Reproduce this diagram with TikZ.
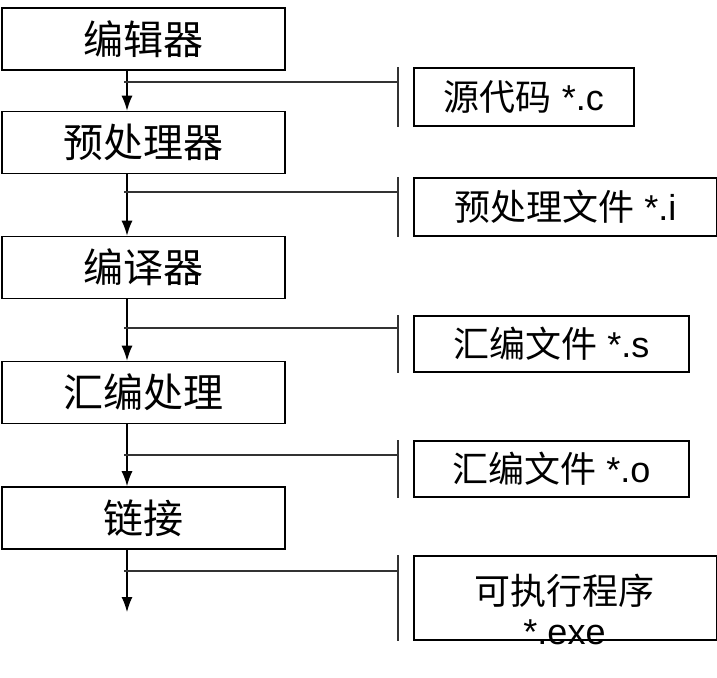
\documentclass[tikz,border=0pt]{standalone}
\usepackage{fontspec}
\setmainfont{Liberation Sans}
\newfontfamily\cjk{Noto Sans CJK SC}
\usetikzlibrary{arrows.meta,calc}

\begin{document}
\begin{tikzpicture}[x=1pt, y=-1pt,
  stage/.style={draw, line width=1.6pt, minimum width=283pt, minimum height=62pt, font=\fontsize{40}{48}\selectfont\cjk},
  file/.style={draw, line width=1.6pt, minimum height=57pt, anchor=west, font=\fontsize{36}{40}\selectfont},
  flow/.style={line width=1.3pt, -{Latex[length=15pt,width=11pt]}},
  feed/.style={line width=1.5pt, draw=black!80}]
  \useasboundingbox (0,0) rectangle (717,677);
  % stages
  \node[stage] (edit) at (143.5,39) {编辑器};
  \node[stage] (prep) at (143.5,142.5) {预处理器};
  \node[stage] (comp) at (143.5,267.5) {编译器};
  \node[stage] (asmb) at (143.5,392.5) {汇编处理};
  \node[stage] (link) at (143.5,518) {链接};
  \coordinate (trunk) at (127,0);
  \coordinate (out) at (127,612);
  \draw[flow] (edit.south -| trunk) -- (prep.north -| trunk);
  \draw[flow] (prep.south -| trunk) -- (comp.north -| trunk);
  \draw[flow] (comp.south -| trunk) -- (asmb.north -| trunk);
  \draw[flow] (asmb.south -| trunk) -- (link.north -| trunk);
  \draw[flow] (link.south -| trunk) -- (out);
  % files
  \node[file, minimum width=220pt, minimum height=58pt] (src) at (413,97) {{\cjk 源代码} *.c};
  \node[file, minimum width=303pt, minimum height=58pt] (ifile) at (413,207) {{\cjk 预处理文件} *.i};
  \node[file, minimum width=275pt, minimum height=56pt] (sfile) at (413,344) {{\cjk 汇编文件} *.s};
  \node[file, minimum width=275pt, minimum height=56pt] (ofile) at (413,469) {{\cjk 汇编文件} *.o};
  \node[file, minimum width=303pt, minimum height=84pt] (exe) at (413,598) {};
  \node[font=\fontsize{36}{40}\selectfont, align=center] (exetext) at (564.5,609) {{\cjk 可执行程序}\\*.exe};
  % feeds
  \draw[feed] ($(src.north west)+(-15,0)$) -- ($(src.south west)+(-15,0)$);
  \draw[feed] ($(src.north west -| trunk)+(-3,15)$) -- ($(src.north west)+(-15,15)$);
  \draw[feed] ($(ifile.north west)+(-15,0)$) -- ($(ifile.south west)+(-15,0)$);
  \draw[feed] ($(ifile.north west -| trunk)+(-3,15)$) -- ($(ifile.north west)+(-15,15)$);
  \draw[feed] ($(sfile.north west)+(-15,0)$) -- ($(sfile.south west)+(-15,0)$);
  \draw[feed] ($(sfile.north west -| trunk)+(-3,13)$) -- ($(sfile.north west)+(-15,13)$);
  \draw[feed] ($(ofile.north west)+(-15,0)$) -- ($(ofile.south west)+(-15,0)$);
  \draw[feed] ($(ofile.north west -| trunk)+(-3,15)$) -- ($(ofile.north west)+(-15,15)$);
  \draw[feed] ($(exe.north west)+(-15,0)$) -- ($(exe.south west)+(-15,0)$);
  \draw[feed] ($(exe.north west -| trunk)+(-3,16)$) -- ($(exe.north west)+(-15,16)$);
\end{tikzpicture}
\end{document}
